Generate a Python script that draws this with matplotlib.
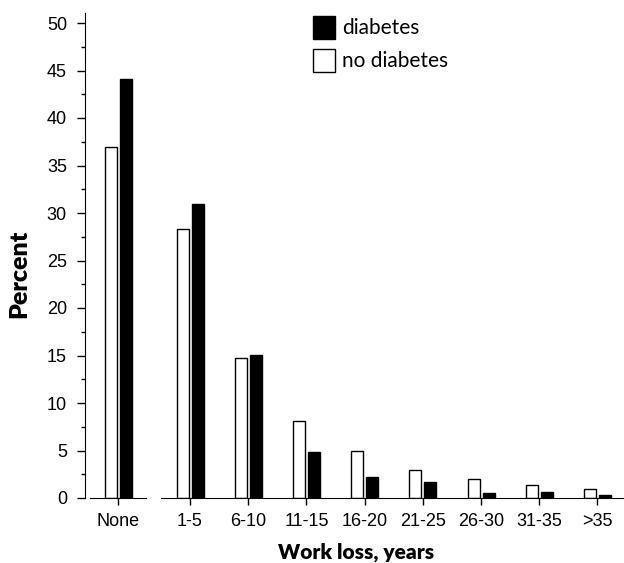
import numpy as np
import matplotlib
matplotlib.use("Agg")
import matplotlib.pyplot as plt
from matplotlib.ticker import MultipleLocator

# data
groups = ["None", "1-5", "6-10", "11-15", "16-20", "21-25", "26-30", "31-35", ">35"]
no_diabetes = [36.9, 28.3, 14.7, 8.1, 4.9, 3.0, 2.0, 1.4, 0.9]
diabetes = [44.1, 30.9, 15.1, 4.8, 2.2, 1.7, 0.5, 0.6, 0.3]

plt.rcParams["font.family"] = ["Liberation Sans", "DejaVu Sans"]
plt.rcParams["font.size"] = 13

W, H = 624, 563
fig = plt.figure(figsize=(W / 100, H / 100), dpi=100)

unit = 58.2          # px per group
base, top = 498, 13  # px of y=0 and top of y axis
ax1 = fig.add_axes([85 / W, (H - base) / H, 62 / W, (base - top) / H])
ax2 = fig.add_axes([161 / W, (H - base) / H, 462 / W, (base - top) / H], sharey=ax1)

bw = 12 / unit
off = 7.5 / unit

##################################################################
# left part: "None"
ax = ax1
x = np.arange(1)
ax.bar(x - off, no_diabetes[:1], bw, color="white", edgecolor="black", lw=1)
ax.bar(x + off, diabetes[:1], bw, color="black", edgecolor="black", lw=1)
ax.set_xlim(-33 / unit, 29 / unit)
ax.set_xticks(x)
ax.set_xticklabels(groups[:1])
ax.spines[["top", "right"]].set_visible(False)
ax.spines["bottom"].set_bounds(-28 / unit, 28 / unit)

ax.set_ylim(0, (base - top) / 9.5)
ax.yaxis.set_major_locator(MultipleLocator(5))
ax.yaxis.set_minor_locator(MultipleLocator(2.5))
ax.tick_params(axis="y", which="major", length=6, width=1, pad=7, direction="out")
ax.tick_params(axis="y", which="minor", length=3, width=1, direction="out")
ax.tick_params(axis="x", length=5, width=1, pad=6, direction="out")
ax.set_ylabel("Percent", family=["Lato", "DejaVu Sans"], fontweight="heavy", fontsize=18)
ax.yaxis.set_label_coords(-0.88, 0.462)

##################################################################
# right part: work loss years
ax = ax2
x = np.arange(len(groups) - 1)
ax.bar(x - off, no_diabetes[1:], bw, color="white", edgecolor="black", lw=1, label="no diabetes")
ax.bar(x + off, diabetes[1:], bw, color="black", edgecolor="black", lw=1, label="diabetes")
ax.set_xlim(-29 / unit, 433 / unit)
ax.set_xticks(x)
ax.set_xticklabels(groups[1:])
ax.spines[["top", "right", "left"]].set_visible(False)
ax.tick_params(axis="y", which="both", left=False, labelleft=False)
ax.tick_params(axis="x", length=5, width=1, pad=6, direction="out")
ax.set_xlabel("Work loss, years", family=["Lato", "DejaVu Sans"], fontweight="heavy", fontsize=15)
ax.xaxis.set_label_coords(0.422, -0.091)

h, l = ax.get_legend_handles_labels()
ax.legend(h[::-1], l[::-1], loc="upper left", bbox_to_anchor=(313 / W, 1 - 16 / H),
          bbox_transform=fig.transFigure, frameon=False, borderpad=0, borderaxespad=0,
          handlelength=1.05, handleheight=1.3, handletextpad=0.35, labelspacing=0.5,
          prop={"family": ["Lato", "DejaVu Sans"], "size": 15})

plt.savefig("out.png", dpi=100)
plt.close()
